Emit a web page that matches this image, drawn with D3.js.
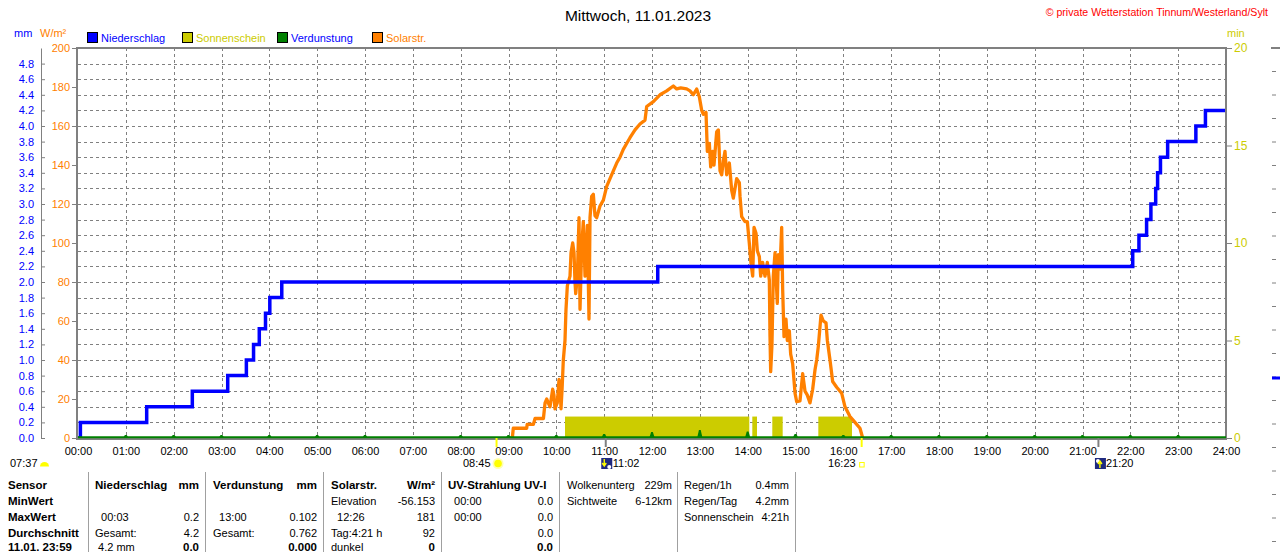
<!DOCTYPE html>
<html>
<head>
<meta charset="utf-8">
<script src="https://cdn.jsdelivr.net/npm/d3@7"></script>
<style>
  html, body { margin: 0; padding: 0; background: #ffffff; }
  svg { display: block; font-family: "Liberation Sans", Arial, sans-serif; }
  .pre { white-space: pre; }
</style>
</head>
<body>
<svg id="chart" width="1280" height="552"></svg>
<script>
// ---------------- DATA ----------------
const chartTitle = "Mittwoch, 11.01.2023";
const copyright = "\u00A9 private Wetterstation Tinnum/Westerland/Sylt";

const hourLabels = ["00:00","01:00","02:00","03:00","04:00","05:00","06:00","07:00","08:00","09:00","10:00","11:00",
  "12:00","13:00","14:00","15:00","16:00","17:00","18:00","19:00","20:00","21:00","22:00","23:00","24:00"];
const mmTicks = [0.0,0.2,0.4,0.6,0.8,1.0,1.2,1.4,1.6,1.8,2.0,2.2,2.4,2.6,2.8,3.0,3.2,3.4,3.6,3.8,4.0,4.2,4.4,4.6,4.8];
const wTicks = [0,20,40,60,80,100,120,140,160,180,200];
const minTicks = [0,5,10,15,20];

const legendNames = ["Niederschlag","Sonnenschein","Verdunstung","Solarstr."];

// Niederschlag (cumulative mm), time in decimal hours
const rainTime = [0, 0.05, 1.436, 2.39, 3.13, 3.52, 3.67, 3.79, 3.92, 4.01, 4.26, 12.12,
  22.05, 22.18, 22.34, 22.43, 22.53, 22.57, 22.63, 22.78, 23.37, 23.57, 24];
const rainMm = [0, 0.2, 0.4, 0.6, 0.8, 1.0, 1.2, 1.4, 1.6, 1.8, 2.0, 2.2,
  2.4, 2.6, 2.8, 3.0, 3.2, 3.4, 3.6, 3.8, 4.0, 4.2, 4.2];

// Solarstrahlung W/m²
const solarTime = [9.08,9.10,9.38,9.39,9.52,9.555,9.73,9.764,9.80,9.83,9.868,9.924,9.95,9.972,10.02,10.056,10.08,10.098,10.12,
  10.146,10.181,10.202,10.23,10.286,10.307,10.342,10.37,10.39,10.405,10.44,10.474,10.495,10.53,10.564,10.6,10.625,10.648,
  10.683,10.704,10.739,10.773,10.808,10.844,10.913,10.983,11.053,11.122,11.192,11.262,11.331,11.4,11.47,11.54,11.645,11.749,
  11.854,11.889,12.028,12.167,12.307,12.446,12.516,12.6,12.725,12.794,12.864,12.934,12.989,13.039,13.073,13.129,13.157,
  13.199,13.227,13.269,13.296,13.352,13.387,13.422,13.457,13.491,13.526,13.561,13.617,13.666,13.7,13.771,13.826,13.84,
  13.875,13.944,13.993,14.034,14.07,14.105,14.133,14.175,14.202,14.244,14.272,14.314,14.362,14.411,14.453,14.467,14.481,
  14.508,14.536,14.572,14.592,14.62,14.641,14.676,14.711,14.732,14.76,14.801,14.829,14.871,14.899,14.941,14.99,15.025,
  15.094,15.15,15.199,15.247,15.303,15.359,15.408,15.443,15.477,15.533,15.582,15.638,15.666,15.721,15.777,15.861,15.965,
  16.035,16.139,16.244,16.348,16.405];
const solarWm2 = [0,5,5,7,7,10,10,18,20,18,16,25,22,15,18,30,25,15,25,
  40,50,66,78,83,95,100,95,80,74,83,113,66,98,111,83,95,109,
  61,113,124,125,114,113,119,122,129,133,137,141,144,148,151,154,158,161,
  163,170,172.5,176,178,180.5,179,179.5,179,178,176,179,175,168,166,167,147,
  151,139,147,140,157,158,137,135,142,147,135,141,127,123,133,131,124,
  113.5,111,111,100,89.6,83,108,105,96,93,83,90,83,90,81,52,34,
  48,83,95,83,69,94,86.6,108,76,52,61,50,55,43,38,23,18.6,
  19,33,24,22,18,25,35,40,47,63,60,59,50,40,29,26,23,
  16,11,8,5,0];

// Sonnenschein (min) intervals
const sunStart = [10.181, 14.097, 14.515, 15.477];
const sunEnd = [14.034, 14.195, 14.732, 16.181];
const sunMinutes = [1.1, 1.1, 1.1, 1.1];

// Verdunstung (mm) per hour
const evapHour = [1,2,3,4,5,6,8,9,10,11,12,13,14,15,16,17,18,19,20,21,22,23];
const evapMm = [0.01,0.01,0.01,0.01,0.01,0.01,0.01,0.01,0.015,0.05,0.077,0.102,0.083,0.05,0.026,0.01,0.01,0.01,0.01,0.01,0.01,0.01];

// Astronomical events
const sunrise = {time: 8.75, label: "08:45"};
const sunset = {time: 16.383, label: "16:23"};
const moonset = {time: 11.033, label: "11:02"};
const moonrise = {time: 21.333, label: "21:20"};
const twilightLabel = "07:37";

// Table
const tableText = [
  [["Sensor",""],["MinWert",""],["MaxWert",""],["Durchschnitt",""],["11.01. 23:59",""]],
  [["Niederschlag","mm"],["",""],["  00:03","0.2"],["Gesamt:","4.2"],[" 4.2 mm","0.0"]],
  [["Verdunstung","mm"],["",""],["  13:00","0.102"],["Gesamt:","0.762"],["","0.000"]],
  [["Solarstr.","W/m\u00B2"],["Elevation","-56.153"],["  12:26","181"],["Tag:4:21 h","92"],["dunkel","0"]],
  [["UV-Strahlung UV-I",""],["  00:00","0.0"],["  00:00","0.0"],["","0.0"],["","0.0"]],
  [["Wolkenunterg","229m"],["Sichtweite","6-12km"],["",""],["",""],["",""]],
  [["Regen/1h","0.4mm"],["Regen/Tag","4.2mm"],["Sonnenschein","4:21h"],["",""],["",""]]
];

// ---------------- DRAWING ----------------
const svg = d3.select("#chart");
const W = 1280, H = 552;
const pL = 78, pR = 1226, pT = 48, pB = 438;

const x = d3.scaleLinear().domain([0, 24]).range([pL, pR]);
const yMm = d3.scaleLinear().domain([0, 5]).range([pB, pT]);
const yW = d3.scaleLinear().domain([0, 200]).range([pB, pT]);
const yMin = d3.scaleLinear().domain([0, 20]).range([pB, pT]);

const GRAY = "#808080", BLUE = "#0000ff", ORANGE = "#ff8000", YEL = "#cccc00", GREEN = "#008000";

svg.append("rect").attr("width", W).attr("height", H).attr("fill", "#fff");

// Title & copyright
svg.append("text").attr("x", 638).attr("y", 21).attr("text-anchor", "middle")
  .attr("font-size", 15.5).attr("fill", "#000").text(chartTitle);
svg.append("text").attr("x", 1268).attr("y", 16).attr("text-anchor", "end")
  .attr("font-size", 10.6).attr("fill", "#ff0000").text(copyright);

// Unit labels
svg.append("text").attr("x", 14).attr("y", 37).attr("font-size", 11).attr("fill", BLUE).text("mm");
svg.append("text").attr("x", 40).attr("y", 37).attr("font-size", 11).attr("fill", ORANGE).text("W/m\u00B2");
svg.append("text").attr("x", 1227).attr("y", 37).attr("font-size", 11).attr("fill", YEL).text("min");

// Legend
const legendFill = [BLUE, YEL, GREEN, ORANGE];
const legendText = [BLUE, YEL, BLUE, ORANGE];
const legendX = [87, 182, 277, 372];
const lg = svg.append("g").selectAll("g").data(legendNames).join("g")
  .attr("transform", (d, i) => `translate(${legendX[i]},0)`);
lg.append("rect").attr("x", 0.5).attr("y", 32.5).attr("width", 10).attr("height", 10)
  .attr("fill", (d, i) => legendFill[i]).attr("stroke", "#000").attr("stroke-width", 1);
lg.append("text").attr("x", 14).attr("y", 42).attr("font-size", 11)
  .attr("fill", (d, i) => legendText[i]).text(d => d);

// Grid
const grid = svg.append("g").attr("stroke", GRAY).attr("stroke-width", 1)
  .attr("stroke-dasharray", "3,3").attr("shape-rendering", "crispEdges");
grid.selectAll("line.h").data(mmTicks.filter(d => d > 0)).join("line").attr("class", "h")
  .attr("x1", x(0)).attr("x2", x(24))
  .attr("y1", d => Math.round(yMm(d)) + 0.5).attr("y2", d => Math.round(yMm(d)) + 0.5);
grid.selectAll("line.v").data(d3.range(1, 24)).join("line").attr("class", "v")
  .attr("x1", d => Math.round(x(d)) + 0.5).attr("x2", d => Math.round(x(d)) + 0.5)
  .attr("y1", pT).attr("y2", pB);

// Sunshine bars
svg.append("g").selectAll("rect").data(sunStart).join("rect")
  .attr("x", (d, i) => x(d)).attr("width", (d, i) => x(sunEnd[i]) - x(d))
  .attr("y", (d, i) => yMin(sunMinutes[i])).attr("height", (d, i) => yMin(0) - yMin(sunMinutes[i]))
  .attr("fill", YEL);

// Solar line
const solarData = solarTime.map((t, i) => [t, solarWm2[i]]);
svg.append("path").datum(solarData)
  .attr("d", d3.line().x(d => x(d[0])).y(d => yW(d[1])))
  .attr("fill", "none").attr("stroke", ORANGE).attr("stroke-width", 3.3)
  .attr("stroke-linejoin", "round");

// Rain step line
const rainData = rainTime.map((t, i) => [t, rainMm[i]]);
svg.append("path").datum(rainData)
  .attr("d", d3.line().x(d => x(d[0])).y(d => yMm(d[1])).curve(d3.curveStepAfter))
  .attr("fill", "none").attr("stroke", BLUE).attr("stroke-width", 3.5);

// Frame
const frame = svg.append("g").attr("stroke", GRAY).attr("stroke-width", 2).attr("shape-rendering", "crispEdges");
frame.append("line").attr("x1", 76).attr("x2", 1227).attr("y1", 48).attr("y2", 48);
frame.append("line").attr("x1", 77).attr("x2", 77).attr("y1", 47).attr("y2", 440);
frame.append("line").attr("x1", 1226).attr("x2", 1226).attr("y1", 47).attr("y2", 440);
frame.append("line").attr("x1", 76).attr("x2", 1227).attr("y1", 439).attr("y2", 439);

// Evaporation baseline + hourly markers
svg.append("line").attr("x1", x(0)).attr("x2", x(24)).attr("y1", 437.3).attr("y2", 437.3)
  .attr("stroke", GREEN).attr("stroke-width", 2);
svg.append("g").selectAll("path").data(evapHour).join("path")
  .attr("d", (h, i) => {
    const cx = x(h), yt = Math.min(yMm(evapMm[i]), 435);
    return `M${cx - 2.6},437.5 L${cx - 0.9},${yt} L${cx + 0.9},${yt} L${cx + 2.6},437.5 Z`;
  })
  .attr("fill", GREEN);

// Left mm axis
const mmAxis = svg.append("g").attr("transform", "translate(41,0)")
  .call(d3.axisLeft(yMm).tickValues(mmTicks).tickFormat(d3.format(".1f"))
    .tickSizeInner(-4).tickSizeOuter(0).tickPadding(7));
mmAxis.select(".domain").attr("stroke", GRAY);
mmAxis.selectAll(".tick line").attr("stroke", GRAY);
mmAxis.selectAll("text").attr("fill", BLUE).attr("font-size", 11)
  .attr("font-family", "Liberation Sans, Arial, sans-serif");

// W/m² axis
const wAxis = svg.append("g").attr("transform", "translate(77,0)")
  .call(d3.axisLeft(yW).tickValues(wTicks).tickSize(5).tickPadding(2));
wAxis.select(".domain").remove();
wAxis.selectAll(".tick line").attr("stroke", GRAY);
wAxis.selectAll("text").attr("fill", ORANGE).attr("font-size", 11)
  .attr("font-family", "Liberation Sans, Arial, sans-serif");

// Right min axis
const minAxis = svg.append("g").attr("transform", "translate(1227,0)")
  .call(d3.axisRight(yMin).tickValues(minTicks).tickSize(5).tickPadding(2));
minAxis.select(".domain").remove();
minAxis.selectAll(".tick line").attr("stroke", GRAY);
minAxis.selectAll("text").attr("fill", YEL).attr("font-size", 12)
  .attr("font-family", "Liberation Sans, Arial, sans-serif");

// Bottom time axis
const xAxis = svg.append("g").attr("transform", `translate(0,${pB})`)
  .call(d3.axisBottom(x).tickValues(d3.range(0, 25)).tickFormat((d, i) => hourLabels[i])
    .tickSize(0).tickPadding(9));
xAxis.select(".domain").remove();
xAxis.selectAll("text").attr("fill", "#000").attr("font-size", 11)
  .attr("font-family", "Liberation Sans, Arial, sans-serif");

// Event ticks under the axis
const ev = svg.append("g");
[[sunrise, "#ffff00"], [sunset, "#ffff00"], [moonset, GRAY], [moonrise, GRAY]].forEach(([e, c]) => {
  ev.append("line").attr("x1", x(e.time)).attr("x2", x(e.time)).attr("y1", 438).attr("y2", 447)
    .attr("stroke", c).attr("stroke-width", 2);
});

// Event labels row
const evY = 467;
ev.append("text").attr("x", 10).attr("y", evY).attr("font-size", 11).text(twilightLabel);
ev.append("path").attr("d", "M40,466.5 A4.5,4.5 0 0 1 49,466.5 Z").attr("fill", "#ffff00");
ev.append("text").attr("x", x(sunrise.time) - 6).attr("y", evY).attr("text-anchor", "end")
  .attr("font-size", 11).text(sunrise.label);
ev.append("circle").attr("cx", x(sunrise.time) + 1.5).attr("cy", 463.5).attr("r", 5.5).attr("fill", "#ffffb0");
ev.append("circle").attr("cx", x(sunrise.time) + 1.5).attr("cy", 463.5).attr("r", 3.8).attr("fill", "#ffff00");
const mIcon = (cx, up) => {
  const g = ev.append("g").attr("transform", `translate(${cx - 5},458)`);
  g.append("rect").attr("width", 11).attr("height", 11).attr("fill", "#1f2a80");
  g.append("circle").attr("cx", up ? 3 : 8).attr("cy", up ? 3 : 9).attr("r", 2).attr("fill", "#ffffff");
  g.append("path").attr("d", up ? "M5,10 L5,4 M3,6 L5,3 L7,6" : "M3,1 L3,7 M1,5 L3,8 L5,5")
    .attr("stroke", "#ffff00").attr("stroke-width", 1.4).attr("fill", "none");
  return g;
};
mIcon(x(moonset.time) + 0.5, false);
ev.append("text").attr("x", x(moonset.time) + 7).attr("y", evY).attr("font-size", 11).text(moonset.label);
ev.append("text").attr("x", x(sunset.time) - 6).attr("y", evY).attr("text-anchor", "end")
  .attr("font-size", 11).text(sunset.label);
ev.append("rect").attr("x", x(sunset.time) - 2).attr("y", 462.5).attr("width", 4.5).attr("height", 4.5)
  .attr("fill", "none").attr("stroke", "#ffff00").attr("stroke-width", 1);
mIcon(x(moonrise.time) + 1.5, true);
ev.append("text").attr("x", x(moonrise.time) + 7.5).attr("y", evY).attr("font-size", 11).text(moonrise.label);

// Table
const colLeft = [8, 95, 213, 331, 448, 567, 684];
const colRight = [null, 199, 317, 435, 553, 672, 789];
const sepX = [88, 205, 323, 441, 559, 677, 795];
const rowY = [489, 505, 521, 537, 550.5];
svg.append("g").selectAll("line").data(sepX).join("line")
  .attr("x1", d => d + 0.5).attr("x2", d => d + 0.5).attr("y1", 472).attr("y2", 552)
  .attr("stroke", "#a0a0a0").attr("stroke-width", 1);
const tbl = svg.append("g").attr("font-size", 11).attr("fill", "#000");
tableText.forEach((col, c) => {
  col.forEach((cell, r) => {
    const boldL = c === 0 || (r === 0 && c <= 4);
    const boldR = (r === 0 && c <= 4) || (r === 4 && c <= 4);
    if (cell[0]) {
      tbl.append("text").attr("class", "pre").attr("x", colLeft[c]).attr("y", rowY[r])
        .attr("font-weight", boldL ? "bold" : "normal").attr("font-size", boldL ? 11.5 : 11)
        .text(cell[0]);
    }
    if (cell[1] && colRight[c] !== null) {
      tbl.append("text").attr("x", colRight[c]).attr("y", rowY[r]).attr("text-anchor", "end")
        .attr("font-weight", boldR ? "bold" : "normal").attr("font-size", boldR ? 11.5 : 11)
        .text(cell[1]);
    }
  });
});

// Partial next chart at far right edge
const edge = svg.append("g");
edge.append("line").attr("x1", 1271).attr("x2", 1280).attr("y1", 48).attr("y2", 48)
  .attr("stroke", GRAY).attr("stroke-width", 2);
edge.selectAll("line.t").data(d3.range(1, 22)).join("line").attr("class", "t")
  .attr("x1", 1272).attr("x2", 1276)
  .attr("y1", d => 48 + d * 23.5).attr("y2", d => 48 + d * 23.5)
  .attr("stroke", GRAY).attr("stroke-width", 1);
edge.append("line").attr("x1", 1272).attr("x2", 1280).attr("y1", 378).attr("y2", 378)
  .attr("stroke", BLUE).attr("stroke-width", 3);
</script>
</body>
</html>
